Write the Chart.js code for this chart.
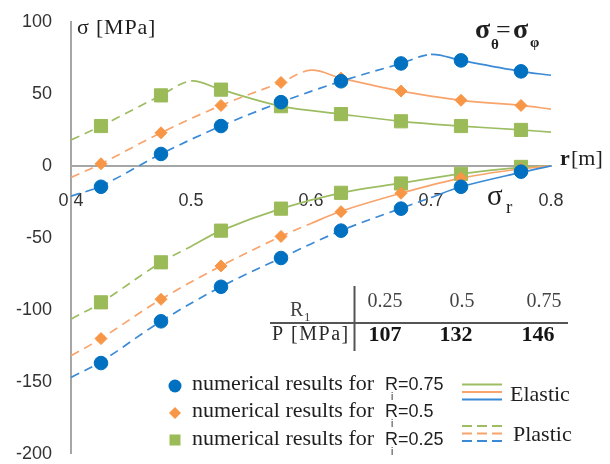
<!DOCTYPE html>
<html>
<head>
<meta charset="utf-8">
<script src="https://cdn.jsdelivr.net/npm/chart.js@4.4.1/dist/chart.umd.min.js"></script>
<style>
  html, body { margin: 0; padding: 0; background: #fff; }
  #chart1 { display: block; }
</style>
</head>
<body>
<canvas id="chart1" width="610" height="464"></canvas>
<script>
// radii of the numerical results [m]
var rNum = [0.425, 0.475, 0.525, 0.575, 0.625, 0.675, 0.725, 0.775];

// numerical results (markers) [MPa]
var hoopNum075 = [-14.5, 8.3, 27.7, 44.3, 58.8, 71.2, 73.3, 65.7];
var radNum075 = [-137, -108, -84, -64, -45, -29.7, -14.5, -4];
var hoopNum05 = [1.5, 23, 42, 58, 61, 52, 45.6, 42];
var radNum05 = [-120, -92.7, -69.5, -49, -31.8, -19, -8.5, -2];
var hoopNum025 = [27.7, 49, 53, 41.5, 36, 31, 27.7, 25];
var radNum025 = [-94.8, -67, -45, -29.7, -18.7, -12.2, -5.5, -0.7];

// analytical curves
var rCurve075 = [0.4, 0.425, 0.475, 0.525, 0.575, 0.625, 0.675, 0.7, 0.725, 0.775, 0.8];
var hoopCurve075 = [-21, -14, 8.3, 27.7, 44.3, 58.8, 71.2, 77.5, 73.3, 65.7, 63];
var radCurve075 = [-147, -136, -108, -84, -64, -45, -29.5, -22, -14.5, -4.5, 0];

var rCurve05 = [0.4, 0.425, 0.475, 0.525, 0.575, 0.6, 0.625, 0.675, 0.725, 0.775, 0.8];
var hoopCurve05 = [-8, 1.5, 23, 42, 58, 66.5, 61, 52, 45.6, 42, 39.5];
var radCurve05 = [-132, -120, -92.7, -69.5, -49, -40, -31.5, -19, -8.5, -2, 0];

var rCurve025 = [0.4, 0.425, 0.475, 0.5, 0.525, 0.575, 0.625, 0.675, 0.725, 0.775, 0.8];
var hoopCurve025 = [18, 27.7, 49, 59, 53, 41.5, 36, 31, 27.7, 25, 23.5];
var radCurve025 = [-106.5, -95, -67, -56, -45, -29.7, -18.7, -12, -5.5, -1, 0];

// elastic-plastic boundary for R = 0.75, 0.5, 0.25
var plasticRadius = [0.7, 0.6, 0.5];

// table
var tableR = ['0.25', '0.5', '0.75'];
var tableP = ['107', '132', '146'];

var xTickLabels = ['0.4', '0.5', '0.6', '0.7', '0.8'];
var yTickLabels = ['-200', '-150', '-100', '-50', '0', '50', '100'];

var blue = '#0070C0', orange = '#F79646', green = '#9BBB59';
var blueLine = '#3a8ad6', orangeLine = '#f8a46c', greenLine = '#9dbd62';
var serif = '"Liberation Serif", "Times New Roman", serif';
var sans = '"Liberation Sans", Arial, sans-serif';

function pts(xs, ys) {
    return xs.map(function (x, i) { return { x: x, y: ys[i] }; });
}

function curve(xs, ys, color, edge) {
    return {
        data: pts(xs, ys),
        showLine: true,
        borderColor: color,
        borderWidth: 1.7,
        pointRadius: 0,
        tension: 0.35,
        order: 1,
        segment: {
            borderDash: function (c) { return c.p1.parsed.x <= edge + 1e-9 ? [9, 6] : undefined; }
        }
    };
}

function marks(ys, color, style, size) {
    return {
        data: pts(rNum, ys),
        showLine: false,
        pointStyle: style,
        pointRadius: size,
        backgroundColor: color,
        borderColor: color,
        borderWidth: 1,
        order: 0
    };
}

var datasets = [
    marks(hoopNum075, blue, 'circle', 6.8),
    marks(radNum075, blue, 'circle', 6.8),
    marks(hoopNum05, orange, 'rectRot', 6),
    marks(radNum05, orange, 'rectRot', 6),
    marks(hoopNum025, green, 'rect', 9.3),
    marks(radNum025, green, 'rect', 9.3),
    curve(rCurve075, hoopCurve075, blueLine, plasticRadius[0]),
    curve(rCurve075, radCurve075, blueLine, plasticRadius[0]),
    curve(rCurve05, hoopCurve05, orangeLine, plasticRadius[1]),
    curve(rCurve05, radCurve05, orangeLine, plasticRadius[1]),
    curve(rCurve025, hoopCurve025, greenLine, plasticRadius[2]),
    curve(rCurve025, radCurve025, greenLine, plasticRadius[2])
];

// labels, table and legend
var notes = {
    id: 'notes',
    afterDraw: function (chart) {
        var c = chart.ctx;
        c.save();
        c.fillStyle = '#1f1f1f';
        c.textAlign = 'left';
        c.textBaseline = 'alphabetic';

        c.font = '22px ' + serif;
        c.letterSpacing = '0.8px';
        c.fillText('σ [MPa]', 77, 34);
        c.letterSpacing = '0px';

        c.font = 'bold 28px ' + serif;
        c.fillText('σ', 475, 38);
        c.fillText('σ', 513, 38);
        c.font = '26px ' + serif;
        c.fillText('=', 496, 38);
        c.font = 'bold 15px ' + serif;
        c.fillText('θ', 491, 49);
        c.fillText('φ', 530, 47);

        c.font = 'bold 22px ' + serif;
        c.fillText('r', 560, 165);
        c.font = '22px ' + serif;
        c.fillText('[m]', 571, 165);

        c.font = '29px ' + serif;
        c.fillText('σ', 487, 205);
        c.font = '19px ' + serif;
        c.fillText('r', 506, 213);

        // table
        c.strokeStyle = '#555';
        c.lineWidth = 2;
        c.beginPath();
        c.moveTo(354.5, 286); c.lineTo(354.5, 351);
        c.moveTo(270, 323); c.lineTo(568, 323);
        c.stroke();
        c.fillStyle = '#444';
        c.font = '20px ' + serif;
        c.fillText('R', 290, 316);
        c.font = '13px ' + serif;
        c.fillText('1', 304, 321);
        c.font = '20px ' + serif;
        c.textAlign = 'center';
        var colX = [385, 462, 544];
        tableR.forEach(function (t, i) { c.fillText(t, colX[i], 307); });
        c.textAlign = 'left';
        c.fillStyle = '#2a2a2a';
        c.letterSpacing = '1.5px';
        c.fillText('P [MPa]', 272, 340);
        c.letterSpacing = '0px';
        c.fillStyle = '#151515';
        c.font = 'bold 22px ' + serif;
        c.textAlign = 'center';
        var boldX = [385, 456, 538];
        tableP.forEach(function (t, i) { c.fillText(t, boldX[i], 341); });
        c.textAlign = 'left';

        // legend markers
        c.fillStyle = blue;
        c.beginPath(); c.arc(175, 386, 6.5, 0, Math.PI * 2); c.fill();
        c.fillStyle = orange;
        c.beginPath();
        c.moveTo(175, 407); c.lineTo(181, 413); c.lineTo(175, 419); c.lineTo(169, 413);
        c.closePath(); c.fill();
        c.fillStyle = green;
        c.fillRect(169.5, 434.5, 11, 11);

        var rows = [390, 417, 445];
        var rVals = ['=0.75', '=0.5', '=0.25'];
        rows.forEach(function (y, i) {
            c.fillStyle = '#1f1f1f';
            c.font = '22px ' + serif;
            c.fillText('numerical results for', 192, y);
            c.font = '18px ' + sans;
            c.fillText('R', 385, y);
            c.fillText(rVals[i], 398, y);
            c.font = '10px ' + sans;
            c.fillText('i', 391, y + 10);
        });

        // elastic / plastic line samples
        var lineCols = [greenLine, orangeLine, blueLine];
        c.lineWidth = 2;
        [384.5, 392, 399.5].forEach(function (y, i) {
            c.strokeStyle = lineCols[i];
            c.beginPath(); c.moveTo(462, y); c.lineTo(502, y); c.stroke();
        });
        c.setLineDash([10, 5]);
        [426, 433.5, 441].forEach(function (y, i) {
            c.strokeStyle = lineCols[i];
            c.beginPath(); c.moveTo(462, y); c.lineTo(502, y); c.stroke();
        });
        c.setLineDash([]);
        c.fillStyle = '#1f1f1f';
        c.font = '22px ' + serif;
        c.fillText('Elastic', 510, 401);
        c.fillText('Plastic', 513, 441);
        c.restore();
    }
};

var ctx = document.getElementById('chart1').getContext('2d');
var chart = new Chart(ctx, {
    type: 'scatter',
    data: { datasets: datasets },
    options: {
        responsive: false,
        animation: false,
        layout: { padding: { left: 0, right: 59, top: 22, bottom: 9 } },
        plugins: {
            legend: { display: false },
            tooltip: { enabled: false }
        },
        scales: {
            x: {
                type: 'linear',
                min: 0.4,
                max: 0.8,
                position: { y: 0 },
                grid: { display: false, drawTicks: false },
                border: { color: '#a6a6a6', width: 2 },
                ticks: {
                    stepSize: 0.1,
                    padding: 24,
                    color: '#333',
                    font: { family: sans, size: 18 },
                    callback: function (v, i) { return xTickLabels[i]; }
                },
                afterFit: function (s) {
                    s.height = 0;
                    s.paddingLeft = 0; s.paddingRight = 0;
                    s.paddingTop = 0; s.paddingBottom = 0;
                }
            },
            y: {
                min: -200,
                max: 100,
                grid: { display: false, drawTicks: false },
                border: { color: '#a6a6a6', width: 2 },
                ticks: {
                    stepSize: 50,
                    padding: 19,
                    color: '#333',
                    font: { family: sans, size: 18 },
                    callback: function (v, i) { return yTickLabels[i]; }
                },
                afterFit: function (s) {
                    s.width = 71;
                    s.paddingTop = 0; s.paddingBottom = 0;
                    s.paddingLeft = 0; s.paddingRight = 0;
                }
            }
        }
    },
    plugins: [notes]
});
</script>
</body>
</html>
